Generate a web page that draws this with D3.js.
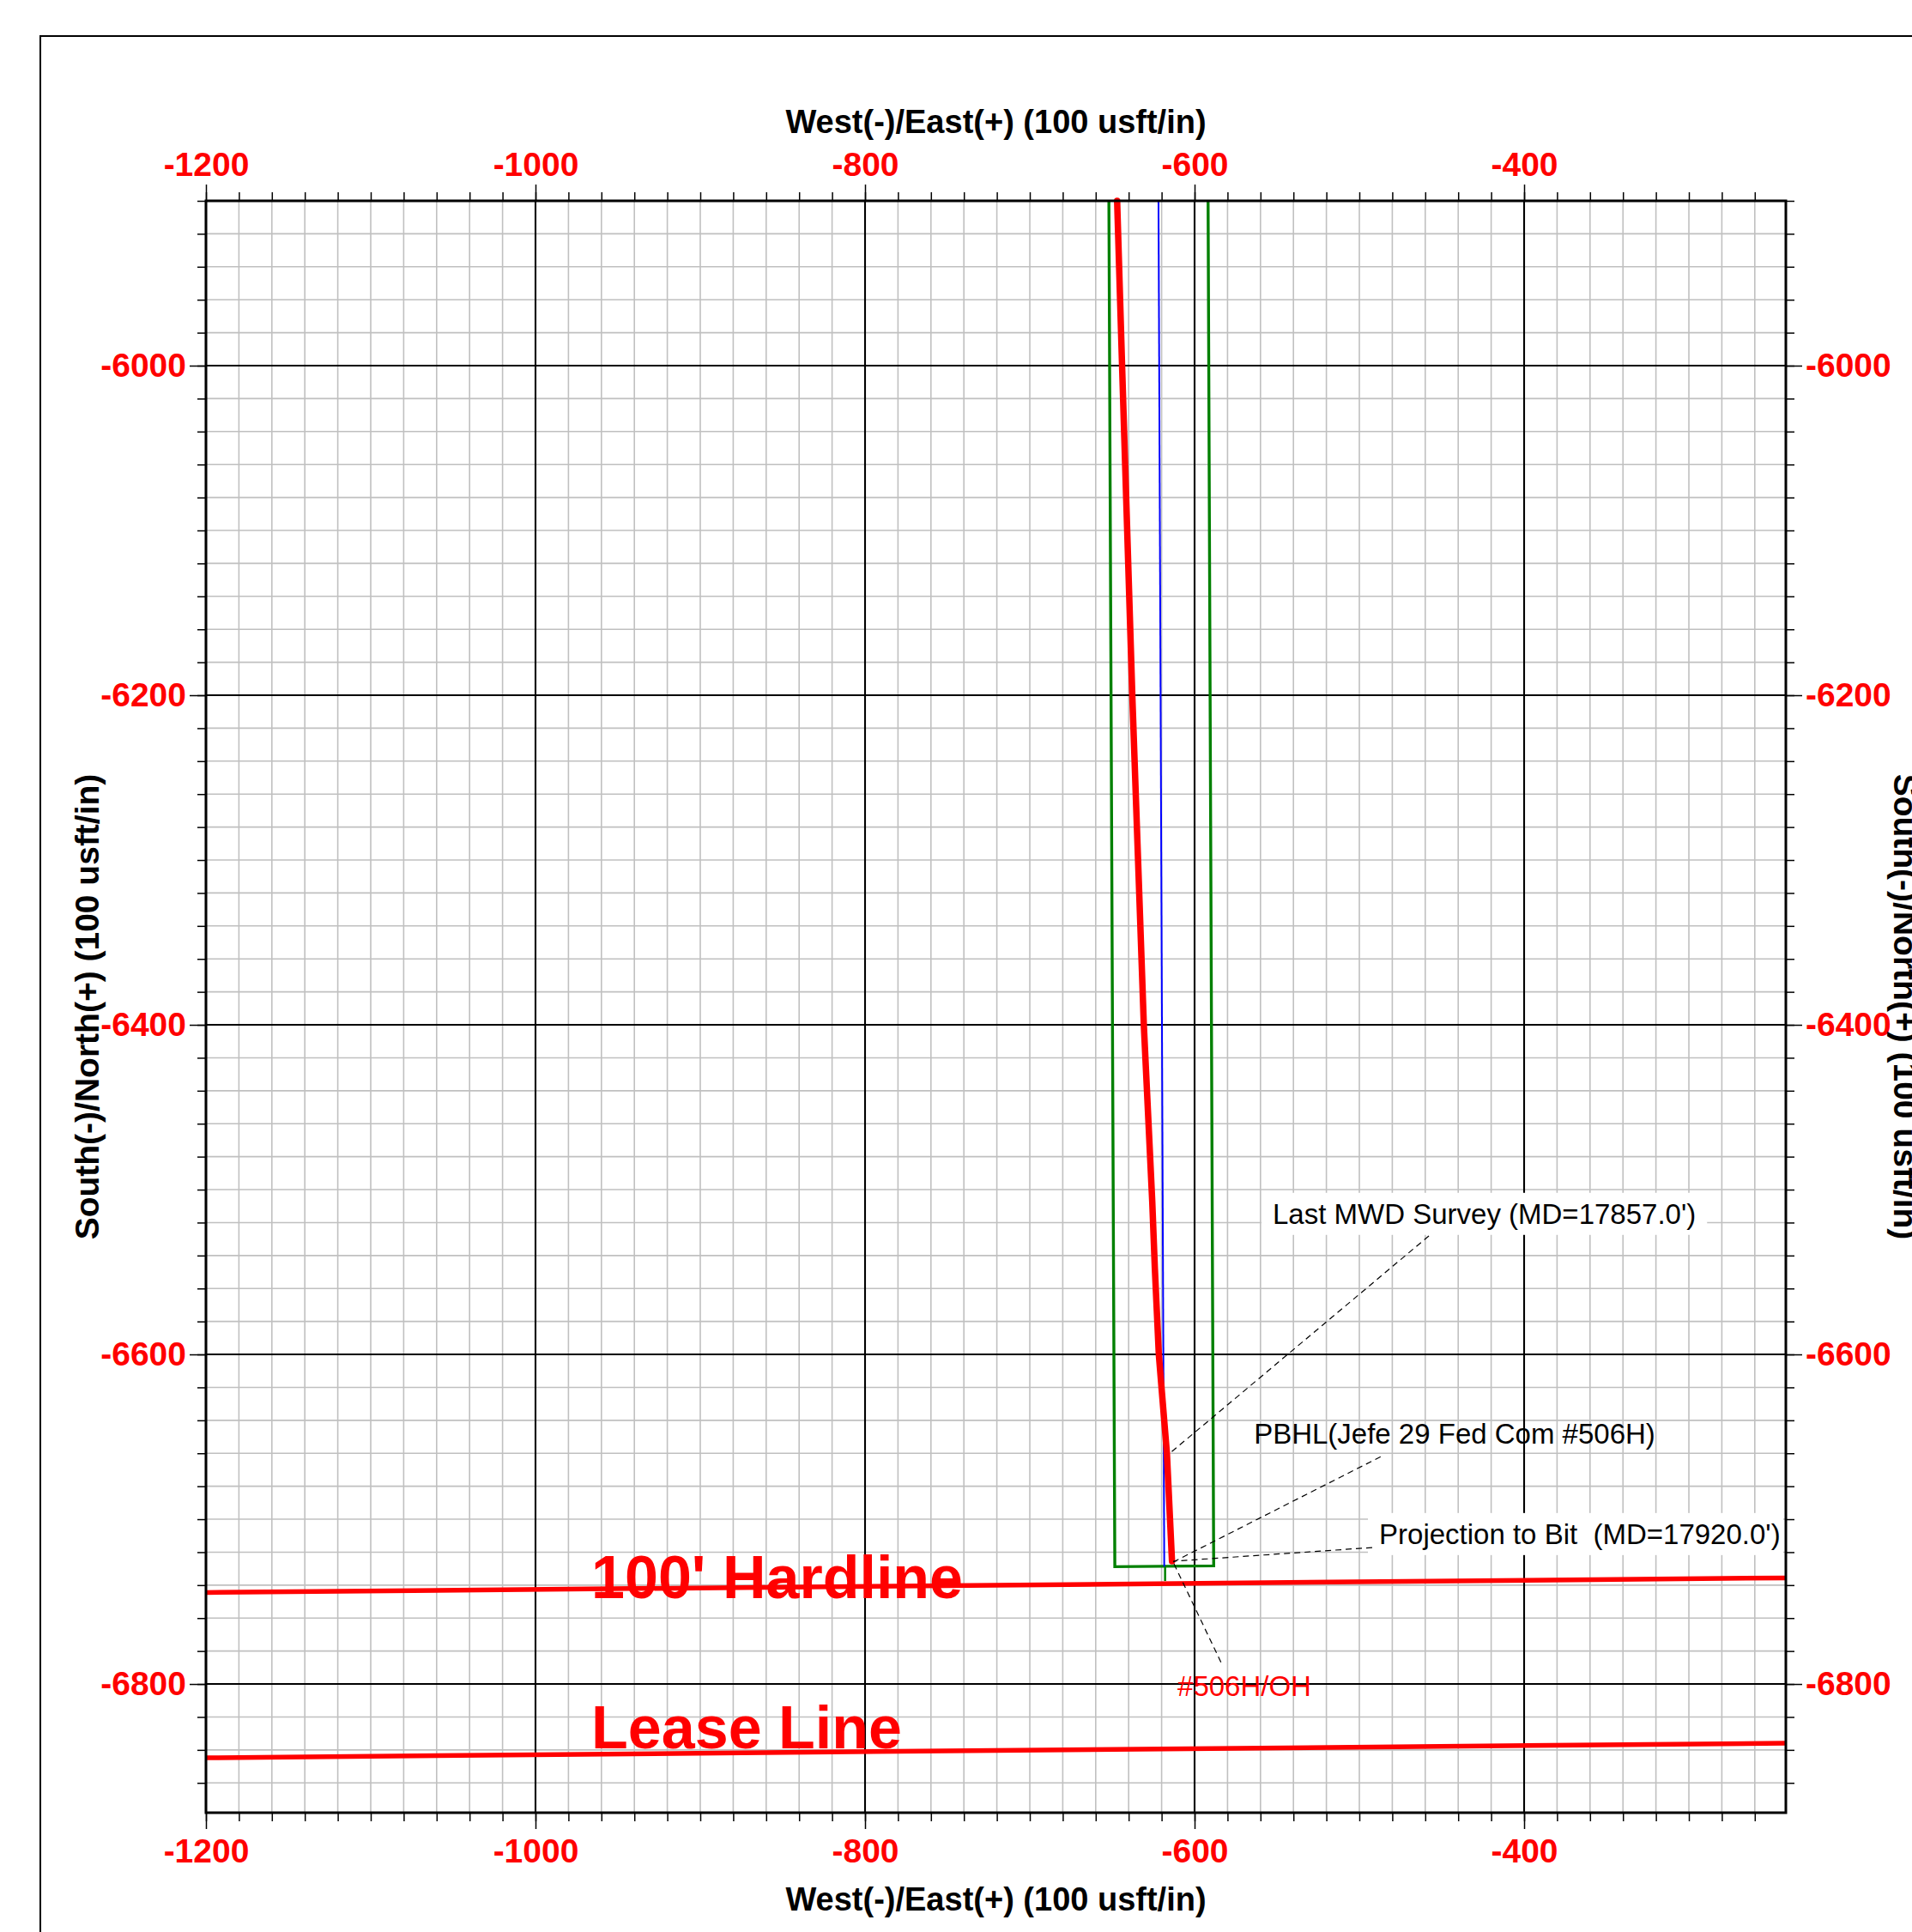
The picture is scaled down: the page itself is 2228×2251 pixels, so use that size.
<!DOCTYPE html>
<html>
<head>
<meta charset="utf-8">
<script src="https://cdn.jsdelivr.net/npm/d3@7"></script>
<style>
  html, body { margin: 0; padding: 0; background: #fff; }
  svg { display: block; }
  text { font-family: "Liberation Sans", Arial, sans-serif; }
</style>
</head>
<body>
<svg id="chart" width="2228" height="2251"></svg>
<script>
// ---------------- data ----------------
const xTickValues = [-1200, -1000, -800, -600, -400];
const yTickValues = [-6000, -6200, -6400, -6600, -6800];
const xTickLabels = ["-1200", "-1000", "-800", "-600", "-400"];
const yTickLabels = ["-6000", "-6200", "-6400", "-6600", "-6800"];
const xDomain = [-1200, -241.15];
const yDomain = [-5900, -6878.1];

// actual wellbore (red)
const wellboreE = [-647.0, -644.0, -637.8, -630.8, -625.7, -624.1, -621.7, -616.8, -613.7];
const wellboreN = [-5900, -6000, -6200, -6400, -6507, -6548, -6600, -6660, -6725.5];

// plan (blue)
const planE = [-621.9, -618.4];
const planN = [-5900, -6728.8];

// target corridor (green)
const targetE = [-652.0, -648.4, -588.4, -591.8];
const targetN = [-5900, -6728.8, -6728.3, -5900];
const stubE = [-617.9, -617.9];
const stubN = [-6728.8, -6737.5];

// hardline and lease line (red)
const hardlineE = [-1200, -241.15];
const hardlineN = [-6744.5, -6735.6];
const leaseE = [-1200, -241.15];
const leaseN = [-6844.8, -6835.9];

const bigLabelText = ["100' Hardline", "Lease Line"];
const bigLabelE = [-966.1, -966.1];
const bigLabelN = [-6748, -6839];

// annotations
const annText = ["Last MWD Survey (MD=17857.0')", "PBHL(Jefe 29 Fed Com #506H)", "Projection to Bit  (MD=17920.0')", "#506H/OH"];
const annE = [-552.6, -564.0, -488.0, -610.4];
const annN = [-6520.7, -6654.0, -6715.0, -6807.3];
const annBoxed = [true, false, true, false];
const annColor = ["#000", "#000", "#000", "#ff0000"];
const leaderFromE = [-457.8, -487.1, -492.2, -612.5];
const leaderFromN = [-6528.1, -6662.1, -6717.2, -6727.1];
const leaderToE = [-615.5, -613.0, -613.0, -583.9];
const leaderToN = [-6660.4, -6726.0, -6725.5, -6787.0];

const xTitle = "West(-)/East(+) (100 usft/in)";
const yTitle = "South(-)/North(+) (100 usft/in)";

// ---------------- drawing ----------------
const svg = d3.select("#chart");
const L = 240, R = 2081, T = 234, B = 2112;
const x = d3.scaleLinear().domain(xDomain).range([L, R]);
const y = d3.scaleLinear().domain(yDomain).range([T, B]);

// outer frame
svg.append("rect").attr("x", 47).attr("y", 42).attr("width", 2400).attr("height", 2400)
  .attr("fill", "none").attr("stroke", "#000").attr("stroke-width", 2);

const xMinor = d3.range(-1180, xDomain[1], 20);
const yMinor = d3.range(-5920, yDomain[1], -20);
const g = svg.append("g");

// minor grid
g.selectAll(".vminor").data(xMinor).join("line")
  .attr("x1", d => x(d)).attr("x2", d => x(d)).attr("y1", T).attr("y2", B)
  .attr("stroke", "#c0c0c0").attr("stroke-width", 1.6);
g.selectAll(".hminor").data(yMinor).join("line")
  .attr("y1", d => y(d)).attr("y2", d => y(d)).attr("x1", L).attr("x2", R)
  .attr("stroke", "#c0c0c0").attr("stroke-width", 1.6);
// major grid
g.selectAll(".vmajor").data(xTickValues).join("line")
  .attr("x1", d => x(d)).attr("x2", d => x(d)).attr("y1", T).attr("y2", B)
  .attr("stroke", "#000").attr("stroke-width", 2.1);
g.selectAll(".hmajor").data(yTickValues).join("line")
  .attr("y1", d => y(d)).attr("y2", d => y(d)).attr("x1", L).attr("x2", R)
  .attr("stroke", "#000").attr("stroke-width", 2.1);

// axes: minor ticks
const xAll = d3.range(-1200, xDomain[1], 20);
const yAll = d3.range(-5900, yDomain[1], -20);
function styleAxis(sel) {
  sel.select(".domain").remove();
  sel.selectAll(".tick line").attr("stroke", "#000").attr("stroke-width", 1.5);
  sel.selectAll("text").attr("fill", "#ff0000").attr("font-size", 39).attr("font-weight", "bold")
    .style("font-family", "'Liberation Sans', Arial, sans-serif");
}
const xFmt = d => xTickLabels[xTickValues.indexOf(d)];
const yFmt = d => yTickLabels[yTickValues.indexOf(d)];
svg.append("g").attr("transform", `translate(0,${T})`)
  .call(d3.axisTop(x).tickValues(xAll).tickSize(10).tickFormat("")).call(styleAxis);
svg.append("g").attr("transform", `translate(0,${B})`)
  .call(d3.axisBottom(x).tickValues(xAll).tickSize(10).tickFormat("")).call(styleAxis);
svg.append("g").attr("transform", `translate(${L},0)`)
  .call(d3.axisLeft(y).tickValues(yAll).tickSize(10).tickFormat("")).call(styleAxis);
svg.append("g").attr("transform", `translate(${R},0)`)
  .call(d3.axisRight(y).tickValues(yAll).tickSize(10).tickFormat("")).call(styleAxis);
// major ticks + labels
svg.append("g").attr("transform", `translate(0,${T})`)
  .call(d3.axisTop(x).tickValues(xTickValues).tickSize(19).tickPadding(10).tickFormat(xFmt)).call(styleAxis);
svg.append("g").attr("transform", `translate(0,${B})`)
  .call(d3.axisBottom(x).tickValues(xTickValues).tickSize(19).tickPadding(11).tickFormat(xFmt)).call(styleAxis);
svg.append("g").attr("transform", `translate(${L},0)`)
  .call(d3.axisLeft(y).tickValues(yTickValues).tickSize(19).tickPadding(4).tickFormat(yFmt)).call(styleAxis);
svg.append("g").attr("transform", `translate(${R},0)`)
  .call(d3.axisRight(y).tickValues(yTickValues).tickSize(19).tickPadding(4).tickFormat(yFmt)).call(styleAxis);

// axis titles
const titleStyle = s => s.attr("font-weight", "bold").attr("fill", "#000").attr("text-anchor", "middle");
svg.append("text").attr("x", (L + R) / 2).attr("y", 155).attr("font-size", 38).text(xTitle).call(titleStyle);
svg.append("text").attr("x", (L + R) / 2).attr("y", 2226).attr("font-size", 38).text(xTitle).call(titleStyle);
svg.append("text").attr("transform", `translate(115,${(T + B) / 2}) rotate(-90)`).attr("font-size", 39).text(yTitle).call(titleStyle);
svg.append("text").attr("transform", `translate(2207,${(T + B) / 2}) rotate(90)`).attr("font-size", 39).text(yTitle).call(titleStyle);

const line = d3.line().x(d => x(d[0])).y(d => y(d[1]));
const zip = (a, b) => a.map((v, i) => [v, b[i]]);

// target corridor (green)
svg.append("path").attr("d", line(zip(targetE, targetN))).attr("fill", "none")
  .attr("stroke", "#008000").attr("stroke-width", 3.4);
svg.append("path").attr("d", line(zip(stubE, stubN))).attr("fill", "none")
  .attr("stroke", "#008000").attr("stroke-width", 2.5);
// plan (blue)
svg.append("path").attr("d", line(zip(planE, planN))).attr("fill", "none")
  .attr("stroke", "#0000ff").attr("stroke-width", 2);
// wellbore (red)
svg.append("path").attr("d", line(zip(wellboreE, wellboreN))).attr("fill", "none")
  .attr("stroke", "#ff0000").attr("stroke-width", 7.5).attr("stroke-linecap", "round").attr("stroke-linejoin", "round");
// hardline and lease line
svg.append("path").attr("d", line(zip(hardlineE, hardlineN))).attr("fill", "none")
  .attr("stroke", "#ff0000").attr("stroke-width", 5.5);
svg.append("path").attr("d", line(zip(leaseE, leaseN))).attr("fill", "none")
  .attr("stroke", "#ff0000").attr("stroke-width", 5.5);

bigLabelText.forEach((t, i) => {
  svg.append("text").attr("x", x(bigLabelE[i])).attr("y", y(bigLabelN[i]))
    .attr("font-size", 70).attr("font-weight", "bold").attr("fill", "#ff0000").text(t);
});

// annotations
annText.forEach((t, i) => {
  const gg = svg.append("g");
  const box = gg.append("rect").attr("fill", "#fff");
  const tx = gg.append("text").attr("x", x(annE[i])).attr("y", y(annN[i]))
    .attr("font-size", 33).attr("fill", annColor[i]).style("white-space", "pre").text(t);
  if (annBoxed[i]) {
    const bb = tx.node().getBBox();
    const bx0 = bb.x - 13;
    const bx1 = Math.min(bb.x + bb.width + 13, R - 3);
    box.attr("x", bx0).attr("y", bb.y - 6).attr("width", bx1 - bx0).attr("height", bb.height + 12);
  } else box.remove();
  svg.append("line")
    .attr("x1", x(leaderFromE[i])).attr("y1", y(leaderFromN[i]))
    .attr("x2", x(leaderToE[i])).attr("y2", y(leaderToN[i]))
    .attr("stroke", "#000").attr("stroke-width", 1.2).attr("stroke-dasharray", "7,5");
});

// plot border (on top)
svg.append("rect").attr("x", L).attr("y", T).attr("width", R - L).attr("height", B - T)
  .attr("fill", "none").attr("stroke", "#000").attr("stroke-width", 3);
</script>
</body>
</html>
